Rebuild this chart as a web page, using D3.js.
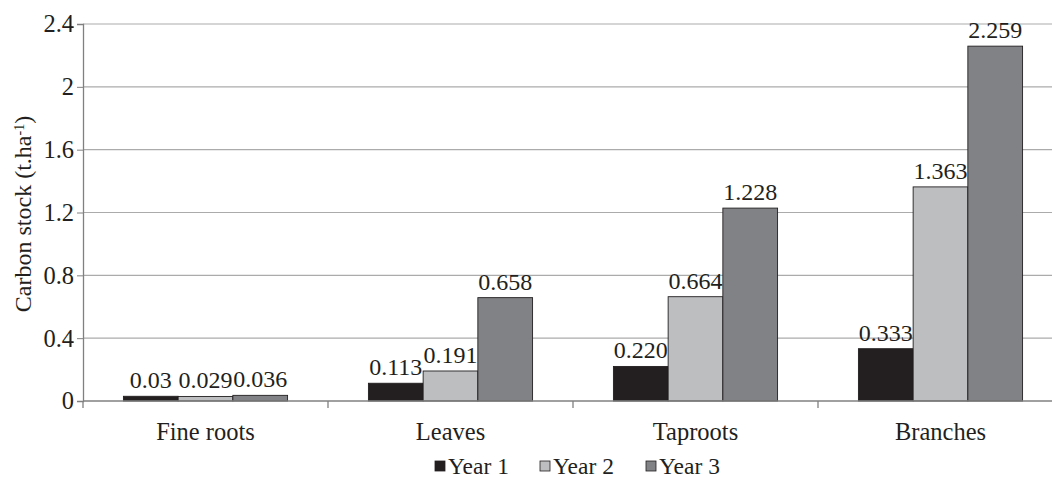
<html>
<head>
<style>
  body { margin: 0; background: #fff; }
  text { font-family: "Liberation Serif", "Times New Roman", serif; fill: #231f20; }
</style>
</head>
<body>
<svg id="chart" width="1052" height="477"></svg>
<script src="https://d3js.org/d3.v7.min.js"></script>
<script>
const categories = ["Fine roots", "Leaves", "Taproots", "Branches"]
const seriesNames = ["Year 1", "Year 2", "Year 3"]
const year1 = [0.03, 0.113, 0.220, 0.333]
const year2 = [0.029, 0.191, 0.664, 1.363]
const year3 = [0.036, 0.658, 1.228, 2.259]
const labels1 = ["0.03", "0.113", "0.220", "0.333"]
const labels2 = ["0.029", "0.191", "0.664", "1.363"]
const labels3 = ["0.036", "0.658", "1.228", "2.259"]
const yTicks = [0, 0.4, 0.8, 1.2, 1.6, 2, 2.4]
const colors = ["#231f20", "#bcbec0", "#808285"]

const values = [year1, year2, year3]
const labels = [labels1, labels2, labels3]

const svg = d3.select("#chart")
const plotLeft = 83, plotRight = 1063, plotTop = 24, plotBottom = 401

const x = d3.scaleBand().domain(categories).range([plotLeft, plotRight])
    .paddingInner(0.33).paddingOuter(0.165)
const xSub = d3.scaleBand().domain(seriesNames).range([0, x.bandwidth()])
const y = d3.scaleLinear().domain([0, 2.4]).range([plotBottom, plotTop])

// gridlines
svg.append("g").selectAll("line").data(yTicks.filter(d => d > 0)).join("line")
    .attr("x1", plotLeft).attr("x2", plotRight)
    .attr("y1", d => y(d)).attr("y2", d => y(d))
    .attr("stroke", "#ababab").attr("stroke-width", 1.2)

// y axis
const yAxis = svg.append("g").attr("transform", `translate(${plotLeft},0)`)
    .call(d3.axisLeft(y).tickValues(yTicks).tickFormat(d3.format("")).tickSize(6).tickPadding(3))
yAxis.select(".domain").attr("stroke", "#808080").attr("stroke-width", 1.3)
yAxis.selectAll(".tick line").attr("stroke", "#808080")
yAxis.selectAll("text").attr("font-size", 24.5).style("font-family", "Liberation Serif").attr("fill", "#231f20")

// bars
seriesNames.forEach((s, i) => {
    const g = svg.append("g")
    g.selectAll("rect").data(categories).join("rect")
        .attr("x", (c) => x(c) + xSub(s))
        .attr("width", xSub.bandwidth())
        .attr("y", (c, j) => y(values[i][j]))
        .attr("height", (c, j) => y(0) - y(values[i][j]))
        .attr("fill", colors[i])
        .attr("stroke", "#231f20").attr("stroke-width", 0.9)
    g.selectAll("text").data(categories).join("text")
        .attr("x", (c) => x(c) + xSub(s) + xSub.bandwidth() / 2)
        .attr("y", (c, j) => y(values[i][j]) - 8)
        .attr("text-anchor", "middle")
        .attr("font-size", 24)
        .text((c, j) => labels[i][j])
})

// x axis
svg.append("line").attr("x1", plotLeft).attr("x2", plotRight)
    .attr("y1", plotBottom).attr("y2", plotBottom)
    .attr("stroke", "#808080").attr("stroke-width", 1.3)
const bounds = categories.map(c => x(c) - x.step() * 0.165).concat([plotRight])
svg.append("g").selectAll("line").data(bounds).join("line")
    .attr("x1", d => d).attr("x2", d => d)
    .attr("y1", plotBottom).attr("y2", plotBottom + 7)
    .attr("stroke", "#808080").attr("stroke-width", 1.3)
svg.append("g").selectAll("text").data(categories).join("text")
    .attr("x", c => x(c) + x.bandwidth() / 2)
    .attr("y", 440)
    .attr("text-anchor", "middle")
    .attr("font-size", 24.5)
    .text(c => c)

// y title
const yt = svg.append("text")
    .attr("transform", "translate(31,214) rotate(-90)")
    .attr("text-anchor", "middle")
    .attr("font-size", 24)
yt.append("tspan").text("Carbon stock (t.ha")
yt.append("tspan").attr("baseline-shift", "super").attr("font-size", 14).text("-1")
yt.append("tspan").text(")")

// legend
const legendX = [435, 540, 646]
const lg = svg.append("g").selectAll("g").data(seriesNames).join("g")
    .attr("transform", (d, i) => `translate(${legendX[i]},461)`)
lg.append("rect").attr("width", 10).attr("height", 10)
    .attr("fill", (d, i) => colors[i]).attr("stroke", "#231f20").attr("stroke-width", 0.8)
lg.append("text").attr("x", 13).attr("y", 12.5).attr("font-size", 23.5).text(d => d)
</script>
</body>
</html>
